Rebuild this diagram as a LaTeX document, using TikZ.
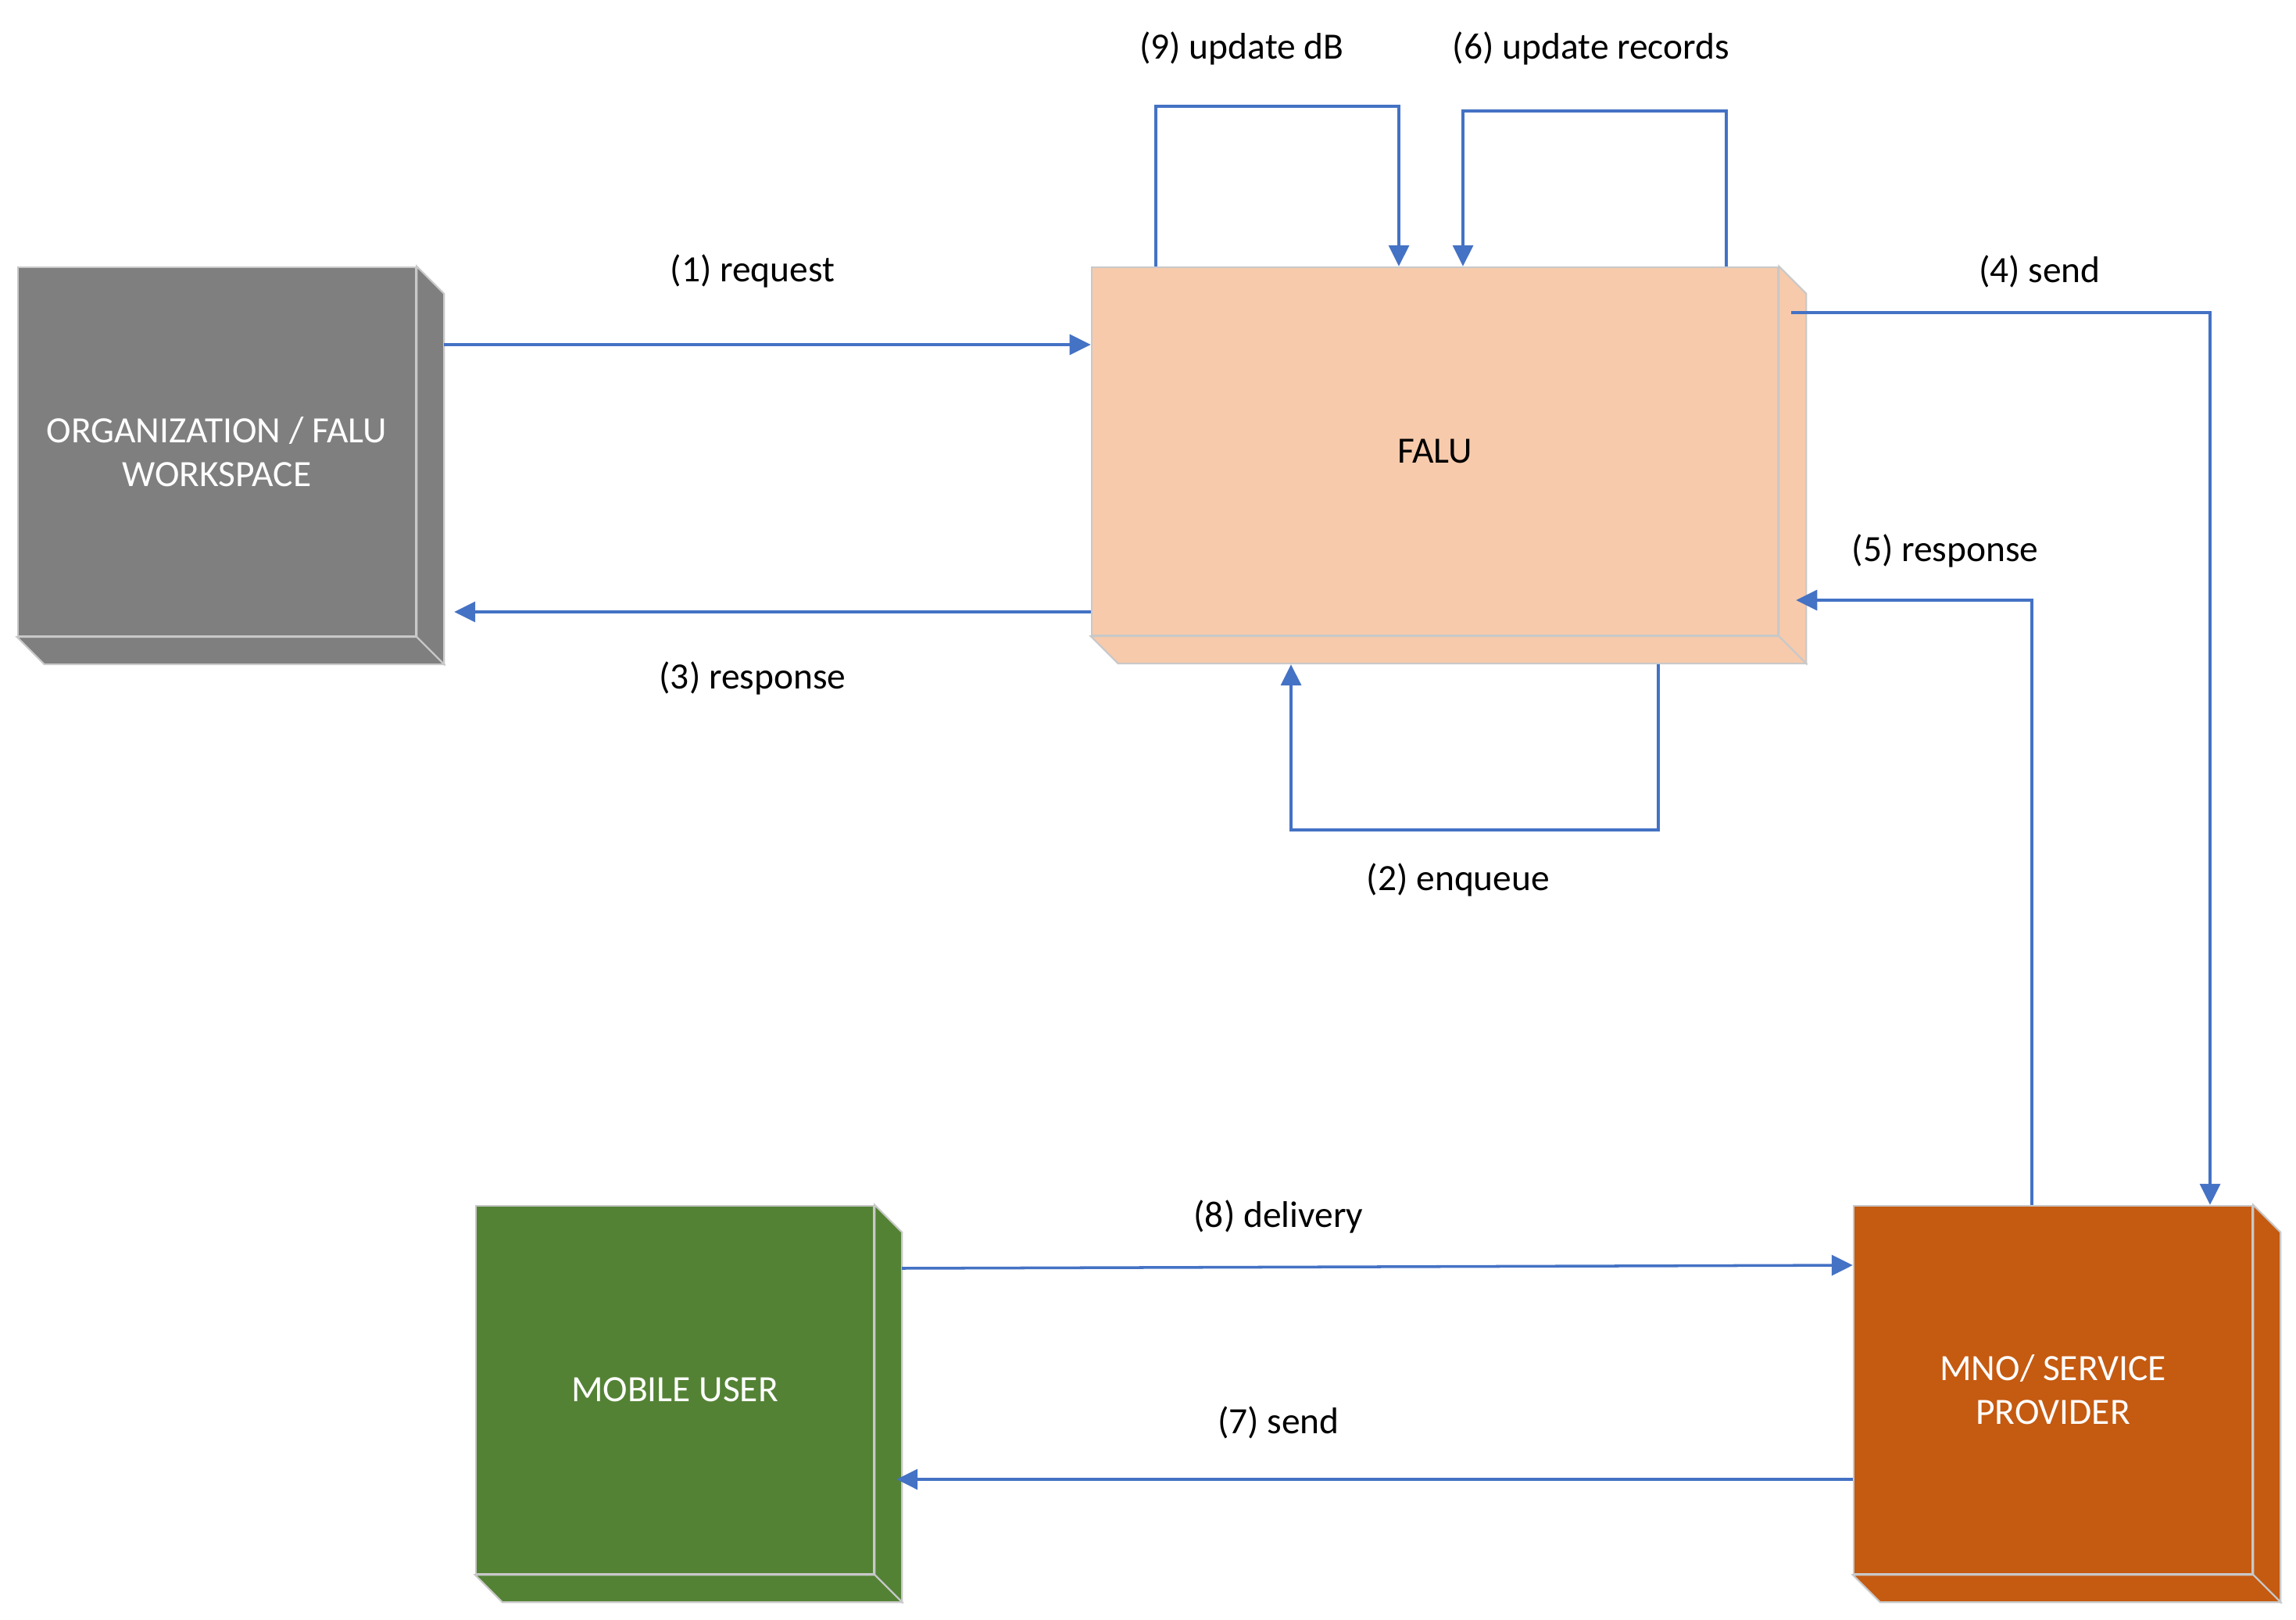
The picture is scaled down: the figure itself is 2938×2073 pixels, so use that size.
\documentclass[tikz,border=0pt]{standalone}
\usepackage{fontspec}
\setmainfont{Carlito}
\usetikzlibrary{arrows.meta, calc}
\definecolor{orggray}{HTML}{7F7F7F}
\definecolor{falupeach}{HTML}{F7CAAC}
\definecolor{usergreen}{HTML}{548235}
\definecolor{mnoorange}{HTML}{C55A11}
\definecolor{flowblue}{HTML}{4472C4}
\definecolor{edgegray}{HTML}{C8C8C8}
\tikzset{
  cube/.style = {rectangle, draw=edgegray, line width=0.6pt, align=center, minimum width=5.09cm, minimum height=4.71cm, inner sep=0pt, font=\fontsize{13.5}{16}\selectfont},
  line/.style = {-{Triangle[length=2.7mm, width=2.6mm]}, draw=flowblue, line width=1pt},
  lbl/.style = {font=\fontsize{13.5}{16}\selectfont}
}
\newcommand\cubedepth{35}
% side and bottom faces of a box
\newcommand\cubesides[2]{%
  \filldraw[fill=#2, draw=edgegray, line width=0.6pt] (#1.north east) -- ++(\cubedepth,\cubedepth) -- ($(#1.south east)+(\cubedepth,\cubedepth)$) -- (#1.south east) -- cycle;
  \filldraw[fill=#2, draw=edgegray, line width=0.6pt] (#1.south west) -- (#1.south east) -- ++(\cubedepth,\cubedepth) -- ($(#1.south west)+(\cubedepth,\cubedepth)$) -- cycle;
}
\begin{document}
\begin{tikzpicture}[x=0.01cm, y=-0.01cm]
\useasboundingbox (0,0) rectangle (2938,2073);

% Boxes
\node[cube, fill=orggray, text=white, minimum height=4.72cm] (org) at (277.5,578) {ORGANIZATION / FALU\\WORKSPACE};
\node[cube, fill=falupeach, minimum width=8.78cm] (falu) at (1836,577.5) {FALU};
\node[cube, fill=usergreen, text=white] (mobile) at (863.5,1778.5) {MOBILE USER};
\node[cube, fill=mnoorange, text=white, minimum width=5.10cm] (mno) at (2627,1778.5) {MNO/ SERVICE\\PROVIDER};

\cubesides{org}{orggray}
\cubesides{falu}{falupeach}
\cubesides{mobile}{usergreen}
\cubesides{mno}{mnoorange}

% Connections
\draw[line] ($(org.east |- 0,441)+(35,0)$) -- (falu.west |- 0,441);
\draw[line] (falu.west |- 0,783) -- ($(org.east |- 0,783)+(48,0)$);
\draw[line] ($(falu.south -| 2122,0)+(0,36)$) -- ++(0,212) -| ($(falu.south -| 1652,0)+(0,36)$);
\draw[line] ($(falu.east |- 0,400)+(16,0)$) -| (mno.north -| 2828,0);
\draw[line] (mno.north -| 2600,0) |- ($(falu.east |- 0,768)+(22,0)$);
\draw[line] (falu.north -| 2209,0) -- ++(0,-199) -| (falu.north -| 1872,0);
\draw[line] ($(mobile.east |- 0,1623)+(35,0)$) -- (mno.west |- 0,1619);
\draw[line] (mno.west |- 0,1893) -- ($(mobile.east |- 0,1893)+(28,0)$);
\draw[line] (falu.north -| 1479,0) -- ++(0,-205) -| (falu.north -| 1790,0);

% Labels
\node[lbl] (lreq) at (963,347) {(1) request};
\node[lbl] (lenq) at (1866,1126) {(2) enqueue};
\node[lbl] (lresp) at (963,868) {(3) response};
\node[lbl] (lsend) at (2610,347) {(4) send};
\node[lbl] (lmnoresp) at (2489,705) {(5) response};
\node[lbl] (lrec) at (2036,62) {(6) update records};
\node[lbl] (lusend) at (1636,1820) {(7) send};
\node[lbl] (ldel) at (1636,1557) {(8) delivery};
\node[lbl] (ldb) at (1589,62) {(9) update dB};

\end{tikzpicture}
\end{document}
